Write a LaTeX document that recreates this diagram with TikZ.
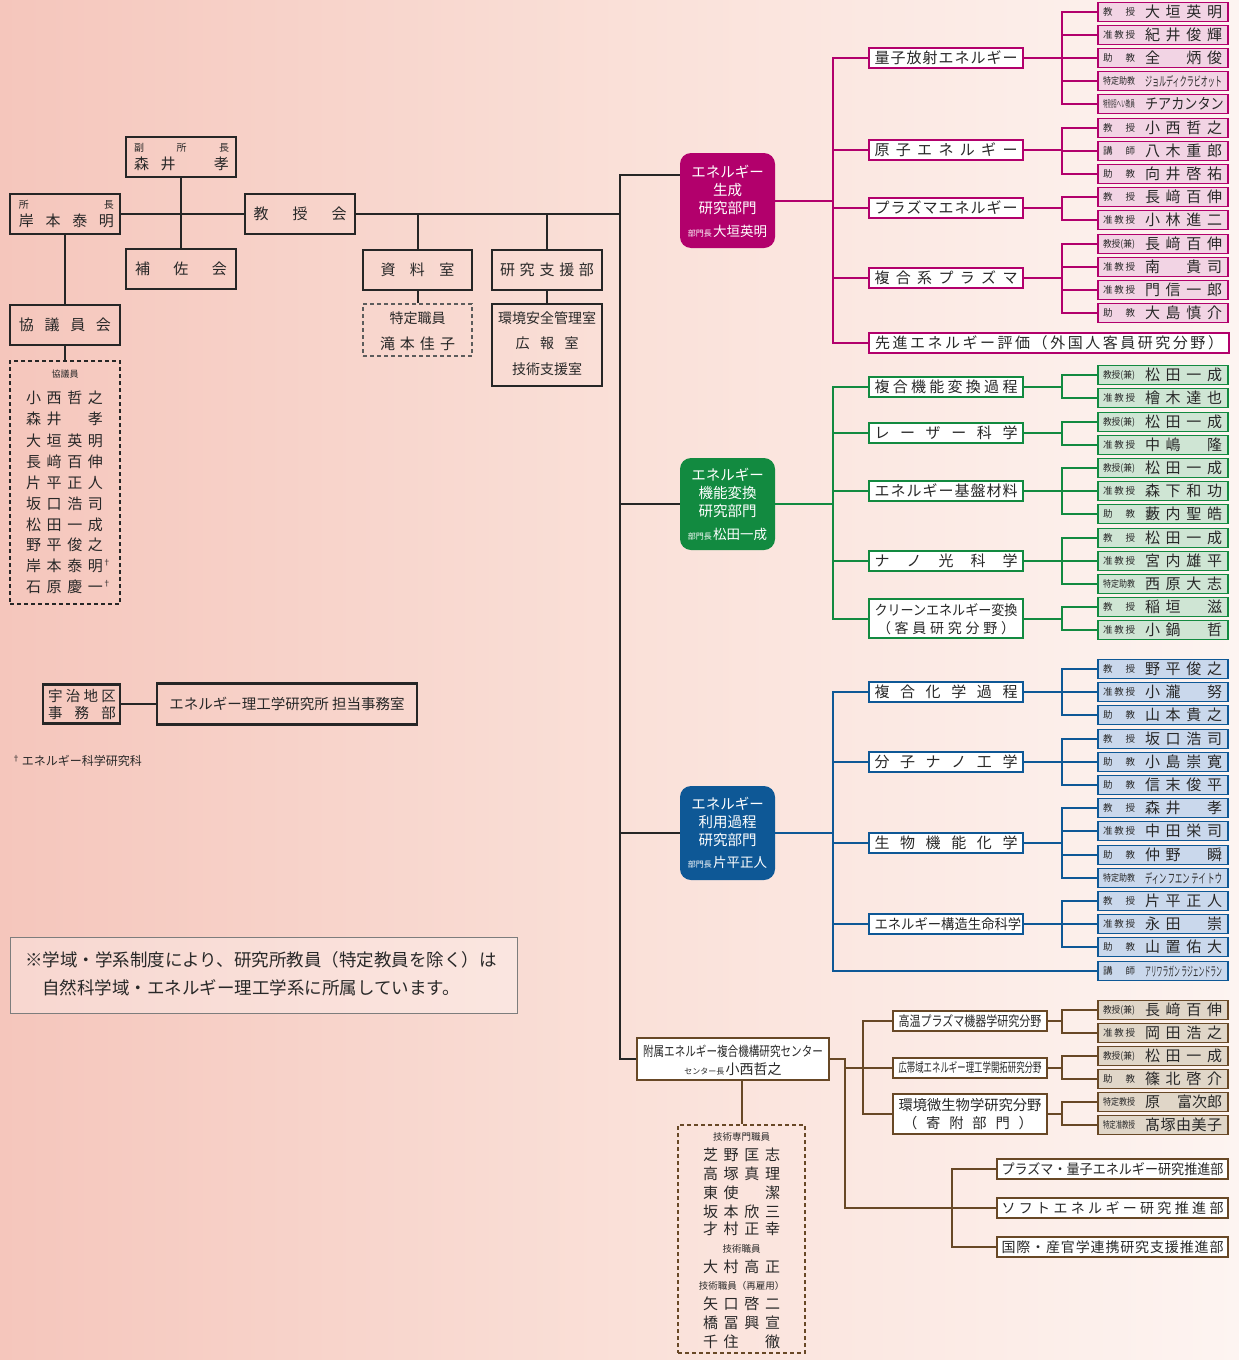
\documentclass[tikz,border=0pt]{standalone}
\usepackage{fontspec}
\setmainfont{Noto Sans CJK JP}
\usepackage{graphicx}
\usetikzlibrary{calc}
\definecolor{txt}{RGB}{40,40,40}
\definecolor{lk}{RGB}{38,38,38}
\definecolor{mag}{RGB}{178,0,108}
\definecolor{magL}{RGB}{242,212,228}
\definecolor{grn}{RGB}{18,138,64}
\definecolor{grnL}{RGB}{207,229,212}
\definecolor{blu}{RGB}{14,88,150}
\definecolor{bluL}{RGB}{202,216,236}
\definecolor{brn}{RGB}{104,72,38}
\definecolor{brnL}{RGB}{224,214,200}
\definecolor{bgL}{RGB}{245,198,188}
\definecolor{bgM}{RGB}{250,224,216}
\definecolor{bgR}{RGB}{253,244,241}
\makeatletter
\newcommand\spr[2]{\makebox[#1][s]{\let\spr@sep\relax\@tfor\spr@c:=#2\do{\spr@sep\spr@c\let\spr@sep\hfill}}}
\makeatother
\newcommand\fsz[1]{\fontsize{#1}{#1}\selectfont}
\newcommand\fw[2]{\resizebox{#1}{\height}{#2}}
\newcommand\nm[1]{\spr{77pt}{#1}}
\newcommand\roK{\spr{32pt}{教授}}
\newcommand\roJ{\spr{32pt}{准教授}}
\newcommand\roS{\spr{32pt}{助教}}
\newcommand\roL{\spr{32pt}{講師}}
\newcommand\roKK{\fw{32pt}{教授(兼)}}
\newcommand\roTJ{\fw{32pt}{特定助教}}
\newcommand\roTK{\fw{32pt}{特定教授}}
\newcommand\roTJK{\fw{32pt}{特定准教授}}
\newcommand\roTS{\fw{32pt}{特別招へい教員}}
\newcommand\pers[5]{\node[pb=#2] (#1) at (1163,#3) {\hbox to 130pt{\hskip5pt\raisebox{1.8pt}{\fsz{9.5}#4}\hskip10pt\fsz{15}#5\hss}};}
\tikzset{
  bk/.style={draw=lk, line width=2.3pt, inner sep=0pt, text=txt},
  dsh/.style={draw=#1, dash pattern=on 4pt off 3pt, line width=1.1pt, inner sep=0pt},
  cn/.style={draw=lk, line width=2pt},
  mc/.style={draw=mag, line width=2pt},
  gc/.style={draw=grn, line width=2pt},
  bc/.style={draw=blu, line width=2pt},
  rc/.style={draw=brn, line width=2pt},
  sub/.style={draw=#1, fill=white, line width=2.3pt, inner sep=0pt, minimum width=154pt, minimum height=20pt, text=txt, font=\fsz{15}},
  pb/.style={draw=#1, fill=#1L, line width=1.2pt, minimum width=130pt, minimum height=19.5pt, inner sep=0pt, text=txt},
  dept/.style={fill=#1, rounded corners=11pt, minimum width=95pt, minimum height=94pt, inner sep=0pt},
  tx/.style={inner sep=0pt, text=txt},
  wt/.style={inner sep=0pt, text=white},
}
\begin{document}
\begin{tikzpicture}[x=1pt,y=-1pt]
\useasboundingbox (0,0) rectangle (1239,1360);
\shade[left color=bgL, right color=bgR, middle color=bgM] (0,0) rectangle (1239,1360);

% ---------- left block ----------
\node[bk, minimum width=110pt, minimum height=40pt] (fuku) at (181,157) {};
\node[tx] (fukuA) at (181.5,148) {\fsz{10}\spr{95pt}{副所長}};
\node[tx] (fukuB) at (181.5,164) {\fsz{15}\spr{95pt}{森井　孝}};
\node[bk, minimum width=110pt, minimum height=40pt] (shocho) at (65,214) {};
\node[tx] (shochoA) at (66.5,205) {\fsz{10}\spr{95pt}{所長}};
\node[tx] (shochoB) at (66.5,221) {\fsz{15}\spr{95pt}{岸本泰明}};
\node[bk, minimum width=110pt, minimum height=40pt, font=\fsz{15}] (kyo) at (300,214) {\spr{93pt}{教授会}};
\node[bk, minimum width=110pt, minimum height=40pt, font=\fsz{15}] (hosa) at (181,269) {\spr{92pt}{補佐会}};
\node[bk, minimum width=110pt, minimum height=40pt, font=\fsz{15}] (kyogi) at (65,325) {\spr{92pt}{協議員会}};
\node[dsh=lk, minimum width=110pt, minimum height=243pt] (kyogiL) at (65,482.5) {};
\node[tx] (kgT) at (65,374) {\fsz{9}協議員};
\node[tx] (kg1) at (64.5,398) {\fsz{15}\nm{小西哲之}};
\node[tx] (kg2) at (64.5,419) {\fsz{15}\nm{森井　孝}};
\node[tx] (kg3) at (64.5,441) {\fsz{15}\nm{大垣英明}};
\node[tx] (kg4) at (64.5,462) {\fsz{15}\nm{長﨑百伸}};
\node[tx] (kg5) at (64.5,483) {\fsz{15}\nm{片平正人}};
\node[tx] (kg6) at (64.5,504) {\fsz{15}\nm{坂口浩司}};
\node[tx] (kg7) at (64.5,525) {\fsz{15}\nm{松田一成}};
\node[tx] (kg8) at (64.5,545) {\fsz{15}\nm{野平俊之}};
\node[tx] (kg9) at (64.5,566) {\fsz{15}\nm{岸本泰明}\rlap{\raisebox{6pt}{\fsz{8}†}}};
\node[tx] (kg10) at (64.5,587) {\fsz{15}\nm{石原慶一}\rlap{\raisebox{6pt}{\fsz{8}†}}};

\node[bk, minimum width=109pt, minimum height=40pt, font=\fsz{15}] (shiryo) at (417.5,270) {\spr{74pt}{資料室}};
\node[bk, minimum width=110pt, minimum height=40pt, font=\fsz{15}] (shien) at (547,270) {\spr{94pt}{研究支援部}};
\node[dsh=lk!75, minimum width=109pt, minimum height=52pt] (shiryoD) at (417.5,330) {};
\node[tx] (sdA) at (417.5,318) {\fsz{14}特定職員};
\node[tx] (sdB) at (417.5,344) {\fsz{15}\spr{75pt}{滝本佳子}};
\node[bk, minimum width=110pt, minimum height=82pt] (shienD) at (547,345) {};
\node[tx] (shA) at (547,318) {\fsz{14}環境安全管理室};
\node[tx] (shB) at (547,343) {\fsz{14}\spr{63pt}{広報室}};
\node[tx] (shC) at (547,369) {\fsz{14}技術支援室};

\node[bk, minimum width=77pt, minimum height=39pt] (uji) at (81.5,704) {};
\node[tx] (ujiA) at (82,696) {\fsz{14.5}\spr{68pt}{宇治地区}};
\node[tx] (ujiB) at (82,713) {\fsz{14.5}\spr{68pt}{事務部}};
\node[bk, minimum width=260pt, minimum height=41pt, font=\fsz{14.5}] (tanto) at (287,704) {エネルギー理工学研究所 担当事務室};
\node[tx, anchor=west] (fn) at (12,761) {\raisebox{4pt}{\fsz{8}†}\,\fsz{12}エネルギー科学研究科};

\node[draw=lk!60, line width=0.8pt, fill=white, fill opacity=0.3, minimum width=507pt, minimum height=76pt, inner sep=0pt] (note) at (263.5,975) {};
\node[tx, anchor=west] (noteA) at (25,960) {\fsz{17.5}※学域・学系制度により、研究所教員（特定教員を除く）は};
\node[tx, anchor=west] (noteB) at (42,988) {\fsz{17.5}自然科学域・エネルギー理工学系に所属しています。};

% ---------- departments ----------
\node[dept=mag, minimum height=95pt] (d1) at (727.5,200.5) {};
\node[wt] (d1a) at (727.5,172) {\fsz{14.5}エネルギー};
\node[wt] (d1b) at (727.5,190) {\fsz{14.5}生成};
\node[wt] (d1c) at (727.5,208) {\fsz{14.5}研究部門};
\node[wt] (d1d) at (727.5,231) {\fsz{8}部門長\,\fsz{13.5}大垣英明};
\node[dept=grn, minimum height=92pt] (d2) at (727.5,504) {};
\node[wt] (d2a) at (727.5,475) {\fsz{14.5}エネルギー};
\node[wt] (d2b) at (727.5,493) {\fsz{14.5}機能変換};
\node[wt] (d2c) at (727.5,511) {\fsz{14.5}研究部門};
\node[wt] (d2d) at (727.5,534) {\fsz{8}部門長\,\fsz{13.5}松田一成};
\node[dept=blu, minimum height=94pt] (d3) at (727.5,833) {};
\node[wt] (d3a) at (727.5,804) {\fsz{14.5}エネルギー};
\node[wt] (d3b) at (727.5,822) {\fsz{14.5}利用過程};
\node[wt] (d3c) at (727.5,840) {\fsz{14.5}研究部門};
\node[wt] (d3d) at (727.5,862) {\fsz{8}部門長\,\fsz{13.5}片平正人};

% ---------- sub-fields ----------
\node[sub=mag] (s1) at (946,58) {\spr{143pt}{量子放射エネルギー}};
\node[sub=mag] (s2) at (946,150) {\spr{143pt}{原子エネルギー}};
\node[sub=mag] (s3) at (946,208) {\spr{143pt}{プラズマエネルギー}};
\node[sub=mag] (s4) at (946,278) {\spr{143pt}{複合系プラズマ}};
\node[sub=mag, minimum width=360pt] (s5) at (1049,343) {\spr{348pt}{先進エネルギー評価（外国人客員研究分野）}};

\node[sub=grn] (g1) at (946,387) {\spr{143pt}{複合機能変換過程}};
\node[sub=grn] (g2) at (946,433) {\spr{143pt}{レーザー科学}};
\node[sub=grn] (g3) at (946,491) {\spr{143pt}{エネルギー基盤材料}};
\node[sub=grn] (g4) at (946,561) {\spr{143pt}{ナノ光科学}};
\node[sub=grn, minimum height=39pt] (g5) at (946,618.5) {};
\node[tx] (g5a) at (946,610) {\fsz{14}\fw{143pt}{クリーンエネルギー変換}};
\node[tx] (g5b) at (946,628) {\fsz{14}\spr{138pt}{（客員研究分野）}};

\node[sub=blu] (b1) at (946,692) {\spr{143pt}{複合化学過程}};
\node[sub=blu] (b2) at (946,762) {\spr{143pt}{分子ナノ工学}};
\node[sub=blu] (b3) at (946,843) {\spr{143pt}{生物機能化学}};
\node[sub=blu] (b4) at (946,924) {\fsz{14}\fw{143pt}{\spr{150pt}{エネルギー構造生命科学}}};

\node[sub=brn, minimum width=192pt, minimum height=42pt] (cen) at (733,1059) {};
\node[tx] (cenA) at (733,1051) {\fsz{13.5}\fw{180pt}{附属エネルギー複合機構研究センター}};
\node[tx] (cenB) at (733,1069) {\fsz{8}センター長\,\fsz{14}小西哲之};
\node[sub=brn] (r1) at (970,1021) {\fsz{14}\fw{143pt}{高温プラズマ機器学研究分野}};
\node[sub=brn] (r2) at (970,1068) {\fsz{13}\fw{143pt}{広帯域エネルギー理工学開拓研究分野}};
\node[sub=brn, minimum height=40pt] (r3) at (970,1114) {};
\node[tx] (r3a) at (970,1105) {\fsz{14.3}環境微生物学研究分野};
\node[tx] (r3b) at (968,1123) {\fsz{14.3}\spr{130pt}{（寄附部門）}};
\node[sub=brn, minimum width=231pt] (t1) at (1112.5,1169) {\fsz{14}\fw{222pt}{プラズマ・量子エネルギー研究推進部}};
\node[sub=brn, minimum width=231pt] (t2) at (1112.5,1208) {\fsz{14}\spr{222pt}{ソフトエネルギー研究推進部}};
\node[sub=brn, minimum width=231pt] (t3) at (1112.5,1247) {\fsz{14}\spr{222pt}{国際・産官学連携研究支援推進部}};

\node[dsh=brn, minimum width=127pt, minimum height=228pt] (tech) at (741.5,1239) {};
\node[tx] (tk0) at (741.5,1137) {\fsz{9.5}技術専門職員};
\node[tx] (tk1) at (741.5,1155) {\fsz{15}\nm{芝野匡志}};
\node[tx] (tk2) at (741.5,1174) {\fsz{15}\nm{高塚真理}};
\node[tx] (tk3) at (741.5,1193) {\fsz{15}\nm{東使　潔}};
\node[tx] (tk4) at (741.5,1212) {\fsz{15}\nm{坂本欣三}};
\node[tx] (tk5) at (741.5,1229) {\fsz{15}\nm{才村正幸}};
\node[tx] (tk6) at (741.5,1249) {\fsz{9.5}技術職員};
\node[tx] (tk7) at (741.5,1267) {\fsz{15}\nm{大村高正}};
\node[tx] (tk8) at (741.5,1286) {\fsz{9.5}技術職員（再雇用）};
\node[tx] (tk9) at (741.5,1304) {\fsz{15}\nm{矢口啓二}};
\node[tx] (tk10) at (741.5,1323) {\fsz{15}\nm{橋冨興宣}};
\node[tx] (tk11) at (741.5,1342) {\fsz{15}\nm{千住　徹}};

% ---------- people ----------
\pers{m1}{mag}{12}{\roK}{\nm{大垣英明}}
\pers{m2}{mag}{35}{\roJ}{\nm{紀井俊輝}}
\pers{m3}{mag}{58}{\roS}{\nm{全　炳俊}}
\pers{m4}{mag}{81}{\roTJ}{\fw{77pt}{\fsz{13}ジョルディクラビオット}}
\pers{m5}{mag}{104}{\roTS}{\fw{77pt}{\spr{88pt}{チアカンタン}}}
\pers{m6}{mag}{128}{\roK}{\nm{小西哲之}}
\pers{m7}{mag}{151}{\roL}{\nm{八木重郎}}
\pers{m8}{mag}{174}{\roS}{\nm{向井啓祐}}
\pers{m9}{mag}{197}{\roK}{\nm{長﨑百伸}}
\pers{m10}{mag}{220}{\roJ}{\nm{小林進二}}
\pers{m11}{mag}{244}{\roKK}{\nm{長﨑百伸}}
\pers{m12}{mag}{267}{\roJ}{\nm{南　貴司}}
\pers{m13}{mag}{290}{\roJ}{\nm{門信一郎}}
\pers{m14}{mag}{313}{\roS}{\nm{大島慎介}}

\pers{n1}{grn}{375}{\roKK}{\nm{松田一成}}
\pers{n2}{grn}{398}{\roJ}{\nm{檜木達也}}
\pers{n3}{grn}{422}{\roKK}{\nm{松田一成}}
\pers{n4}{grn}{445}{\roJ}{\nm{中嶋　隆}}
\pers{n5}{grn}{468}{\roKK}{\nm{松田一成}}
\pers{n6}{grn}{491}{\roJ}{\nm{森下和功}}
\pers{n7}{grn}{514}{\roS}{\nm{藪内聖皓}}
\pers{n8}{grn}{538}{\roK}{\nm{松田一成}}
\pers{n9}{grn}{561}{\roJ}{\nm{宮内雄平}}
\pers{n10}{grn}{584}{\roTJ}{\nm{西原大志}}
\pers{n11}{grn}{607}{\roK}{\nm{稲垣　滋}}
\pers{n12}{grn}{630}{\roJ}{\nm{小鍋　哲}}

\pers{u1}{blu}{669}{\roK}{\nm{野平俊之}}
\pers{u2}{blu}{692}{\roJ}{\nm{小瀧　努}}
\pers{u3}{blu}{715}{\roS}{\nm{山本貴之}}
\pers{u4}{blu}{739}{\roK}{\nm{坂口浩司}}
\pers{u5}{blu}{762}{\roS}{\nm{小島崇寛}}
\pers{u6}{blu}{785}{\roS}{\nm{信末俊平}}
\pers{u7}{blu}{808}{\roK}{\nm{森井　孝}}
\pers{u8}{blu}{831}{\roJ}{\nm{中田栄司}}
\pers{u9}{blu}{855}{\roS}{\nm{仲野　瞬}}
\pers{u10}{blu}{878}{\roTJ}{\fw{77pt}{\fsz{13}ディン フエン テイ トウ}}
\pers{u11}{blu}{901}{\roK}{\nm{片平正人}}
\pers{u12}{blu}{924}{\roJ}{\nm{永田　崇}}
\pers{u13}{blu}{947}{\roS}{\nm{山置佑大}}
\pers{u14}{blu}{971}{\roL}{\fw{77pt}{\fsz{13}アリワラガン ラジェンドラン}}

\pers{w1}{brn}{1010}{\roKK}{\nm{長﨑百伸}}
\pers{w2}{brn}{1033}{\roJ}{\nm{岡田浩之}}
\pers{w3}{brn}{1056}{\roKK}{\nm{松田一成}}
\pers{w4}{brn}{1079}{\roS}{\nm{篠北啓介}}
\pers{w5}{brn}{1102}{\roTK}{\makebox[77pt][s]{原\hfill 富次郎}}
\pers{w6}{brn}{1125}{\roTJK}{\nm{髙塚由美子}}

% ---------- connectors ----------
\draw[cn] (shocho.east) -- (kyo.west);
\draw[cn] (fuku.south) -- (hosa.north);
\draw[cn] (shocho.south) -- (kyogi.north);
\draw[cn] (kyogi.south) -- (kyogiL.north);
\coordinate (tr) at (620,214);
\draw[cn] (kyo.east) -- (tr);
\draw[cn] (shiryo.north) -- (shiryo.north |- kyo.east);
\draw[cn] (shien.north) -- (shien.north |- kyo.east);
\draw[cn] (shiryo.south) -- (shiryoD.north);
\draw[cn] (shien.south) -- (shienD.north);
\draw[cn] (tr) |- ([yshift=26pt]d1.west);
\draw[cn] (tr) |- (d2.west);
\draw[cn] (tr) |- (d3.west);
\draw[cn] (tr) |- (cen.west);
\draw[cn] (uji.east) -- (tanto.west);
\draw[rc] (tech.north |- cen.south) -- (tech.north);

\coordinate (mx) at (833,0);
\coordinate (bx) at (1062,0);
\foreach \s in {s1,s2,s3,s4,s5} \draw[mc] (d1.east) -- (d1.east -| mx) |- (\s.west);
\foreach \i in {1,...,5} \draw[mc] (s1.east) -- (s1.east -| bx) |- (m\i.west);
\foreach \i in {6,7,8} \draw[mc] (s2.east) -- (s2.east -| bx) |- (m\i.west);
\foreach \i in {9,10} \draw[mc] (s3.east) -- (s3.east -| bx) |- (m\i.west);
\foreach \i in {11,...,14} \draw[mc] (s4.east) -- (s4.east -| bx) |- (m\i.west);

\foreach \s in {g1,g2,g3,g4,g5} \draw[gc] (d2.east) -- (d2.east -| mx) |- (\s.west);
\foreach \i in {1,2} \draw[gc] (g1.east) -- (g1.east -| bx) |- (n\i.west);
\foreach \i in {3,4} \draw[gc] (g2.east) -- (g2.east -| bx) |- (n\i.west);
\foreach \i in {5,6,7} \draw[gc] (g3.east) -- (g3.east -| bx) |- (n\i.west);
\foreach \i in {8,9,10} \draw[gc] (g4.east) -- (g4.east -| bx) |- (n\i.west);
\foreach \i in {11,12} \draw[gc] (g5.east) -- (g5.east -| bx) |- (n\i.west);

\foreach \s in {b1,b2,b3,b4,u14} \draw[bc] (d3.east) -- (d3.east -| mx) |- (\s.west);
\foreach \i in {1,2,3} \draw[bc] (b1.east) -- (b1.east -| bx) |- (u\i.west);
\foreach \i in {4,5,6} \draw[bc] (b2.east) -- (b2.east -| bx) |- (u\i.west);
\foreach \i in {7,...,10} \draw[bc] (b3.east) -- (b3.east -| bx) |- (u\i.west);
\foreach \i in {11,12,13} \draw[bc] (b4.east) -- (b4.east -| bx) |- (u\i.west);

\coordinate (c1) at (845,0);
\coordinate (c2) at (863,0);
\coordinate (c3) at (952,0);
\draw[rc] (cen.east) -- (cen.east -| c1) |- (t2.west);
\draw[rc] (c1 |- r2.west) -- (r2.west);
\foreach \r in {r1,r3} \draw[rc] (c2 |- r2.west) |- (\r.west);
\foreach \t in {t1,t3} \draw[rc] (c3 |- t2.west) |- (\t.west);
\foreach \i in {1,2} \draw[rc] (r1.east) -- (r1.east -| bx) |- (w\i.west);
\foreach \i in {3,4} \draw[rc] (r2.east) -- (r2.east -| bx) |- (w\i.west);
\foreach \i in {5,6} \draw[rc] (r3.east) -- (r3.east -| bx) |- (w\i.west);
\end{tikzpicture}
\end{document}
